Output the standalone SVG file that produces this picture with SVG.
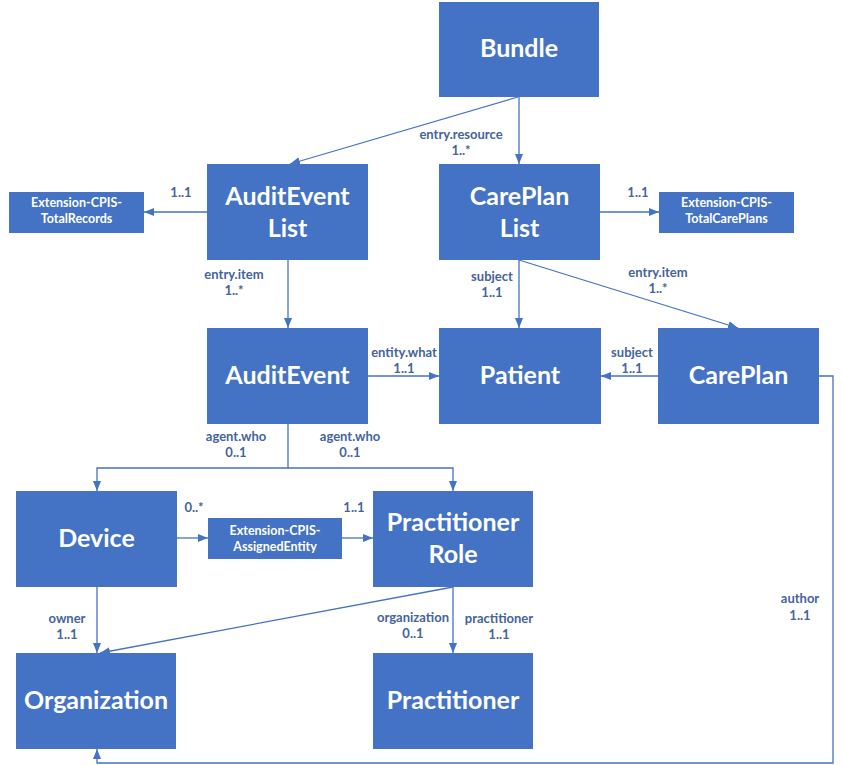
<svg xmlns="http://www.w3.org/2000/svg" width="843" height="765" viewBox="0 0 843 765">
<style>
.box{fill:#4472C4}
.big{font-family:Lato,"Open Sans","Liberation Sans",sans-serif;font-weight:bold;font-size:25px;fill:#fff;text-anchor:middle}
.ext{font-family:Lato,"Open Sans","Liberation Sans",sans-serif;font-weight:bold;font-size:12.5px;fill:#fff;text-anchor:middle}
.lbl{font-family:Lato,"Open Sans","Liberation Sans",sans-serif;font-weight:bold;font-size:13px;fill:#44649C;text-anchor:middle}
.ln{fill:none;stroke:#4472C4;stroke-width:1.3}
.arr{marker-end:url(#ah)}
</style>
<defs>
<marker id="ah" markerUnits="userSpaceOnUse" markerWidth="10" markerHeight="10" viewBox="0 0 10 10" refX="10" refY="5" orient="auto">
<path d="M0,1 L10,5 L0,9 z" fill="#4472C4"/>
</marker>
</defs>
<rect width="843" height="765" fill="#fff"/>
<g id="connectors">
<path class="ln arr" d="M518,97 L290,164"/>
<path class="ln arr" d="M519,97 V164"/>
<path class="ln arr" d="M207,212 H144"/>
<path class="ln arr" d="M600,212 H659"/>
<path class="ln arr" d="M288,260 V328"/>
<path class="ln arr" d="M519,260 V328"/>
<path class="ln arr" d="M519,260 L738,328"/>
<path class="ln arr" d="M368,376 H439"/>
<path class="ln arr" d="M658,376 H601"/>
<path class="ln arr" d="M288,424 V468 H97 V491"/>
<path class="ln arr" d="M288,468 H453 V491"/>
<path class="ln arr" d="M177,538 H208"/>
<path class="ln arr" d="M342,538 H373"/>
<path class="ln arr" d="M97,587 V653"/>
<path class="ln arr" d="M453,587 L100,653"/>
<path class="ln arr" d="M453,587 V653"/>
<path class="ln arr" d="M819,376 H833 V763 H97 V749"/>
<text class="lbl" x="461" y="139">entry.resource</text>
<text class="lbl" x="461" y="155">1..*</text>
<text class="lbl" x="181" y="197">1..1</text>
<text class="lbl" x="638" y="197">1..1</text>
<text class="lbl" x="234" y="279">entry.item</text>
<text class="lbl" x="234" y="295">1..*</text>
<text class="lbl" x="492" y="281">subject</text>
<text class="lbl" x="492" y="297">1..1</text>
<text class="lbl" x="658" y="277">entry.item</text>
<text class="lbl" x="658" y="293">1..*</text>
<text class="lbl" x="404" y="357">entity.what</text>
<text class="lbl" x="404" y="373">1..1</text>
<text class="lbl" x="632" y="357">subject</text>
<text class="lbl" x="632" y="373">1..1</text>
<text class="lbl" x="236" y="441">agent.who</text>
<text class="lbl" x="236" y="457">0..1</text>
<text class="lbl" x="350" y="441">agent.who</text>
<text class="lbl" x="350" y="457">0..1</text>
<text class="lbl" x="194" y="512">0..*</text>
<text class="lbl" x="354" y="512">1..1</text>
<text class="lbl" x="67" y="623">owner</text>
<text class="lbl" x="67" y="639">1..1</text>
<text class="lbl" x="413" y="622">organization</text>
<text class="lbl" x="413" y="638">0..1</text>
<text class="lbl" x="499" y="623">practitioner</text>
<text class="lbl" x="499" y="639">1..1</text>
<text class="lbl" x="800" y="603">author</text>
<text class="lbl" x="800" y="620">1..1</text>
</g>
<g id="bundle"><rect class="box" x="439" y="2" width="160" height="95"/><text class="big" x="519" y="57">Bundle</text></g>
<g id="auditeventlist"><rect class="box" x="207" y="164" width="161" height="96"/><text class="big" x="287.5" y="205">AuditEvent</text><text class="big" x="287.5" y="237">List</text></g>
<g id="careplanlist"><rect class="box" x="439" y="164" width="161" height="96"/><text class="big" x="519.5" y="205">CarePlan</text><text class="big" x="519.5" y="237">List</text></g>
<g id="ext-totalrecords"><rect class="box" x="9" y="192" width="135" height="41"/><text class="ext" x="76.5" y="207">Extension-CPIS-</text><text class="ext" x="76.5" y="223">TotalRecords</text></g>
<g id="ext-totalcareplans"><rect class="box" x="659" y="192" width="135" height="41"/><text class="ext" x="726.5" y="207">Extension-CPIS-</text><text class="ext" x="726.5" y="223">TotalCarePlans</text></g>
<g id="auditevent"><rect class="box" x="207" y="328" width="161" height="96"/><text class="big" x="287.5" y="384">AuditEvent</text></g>
<g id="patient"><rect class="box" x="439" y="328" width="162" height="96"/><text class="big" x="520" y="384">Patient</text></g>
<g id="careplan"><rect class="box" x="658" y="328" width="161" height="96"/><text class="big" x="738.5" y="384">CarePlan</text></g>
<g id="device"><rect class="box" x="16" y="491" width="161" height="96"/><text class="big" x="96.5" y="547">Device</text></g>
<g id="ext-assignedentity"><rect class="box" x="208" y="518" width="134" height="41"/><text class="ext" x="275" y="535">Extension-CPIS-</text><text class="ext" x="275" y="551">AssignedEntity</text></g>
<g id="practitionerrole"><rect class="box" x="373" y="491" width="160" height="96"/><text class="big" x="453" y="531">Practitioner</text><text class="big" x="453" y="563">Role</text></g>
<g id="organization"><rect class="box" x="16" y="653" width="160" height="96"/><text class="big" x="96" y="709">Organization</text></g>
<g id="practitioner"><rect class="box" x="373" y="653" width="160" height="96"/><text class="big" x="453" y="709">Practitioner</text></g>
</svg>
